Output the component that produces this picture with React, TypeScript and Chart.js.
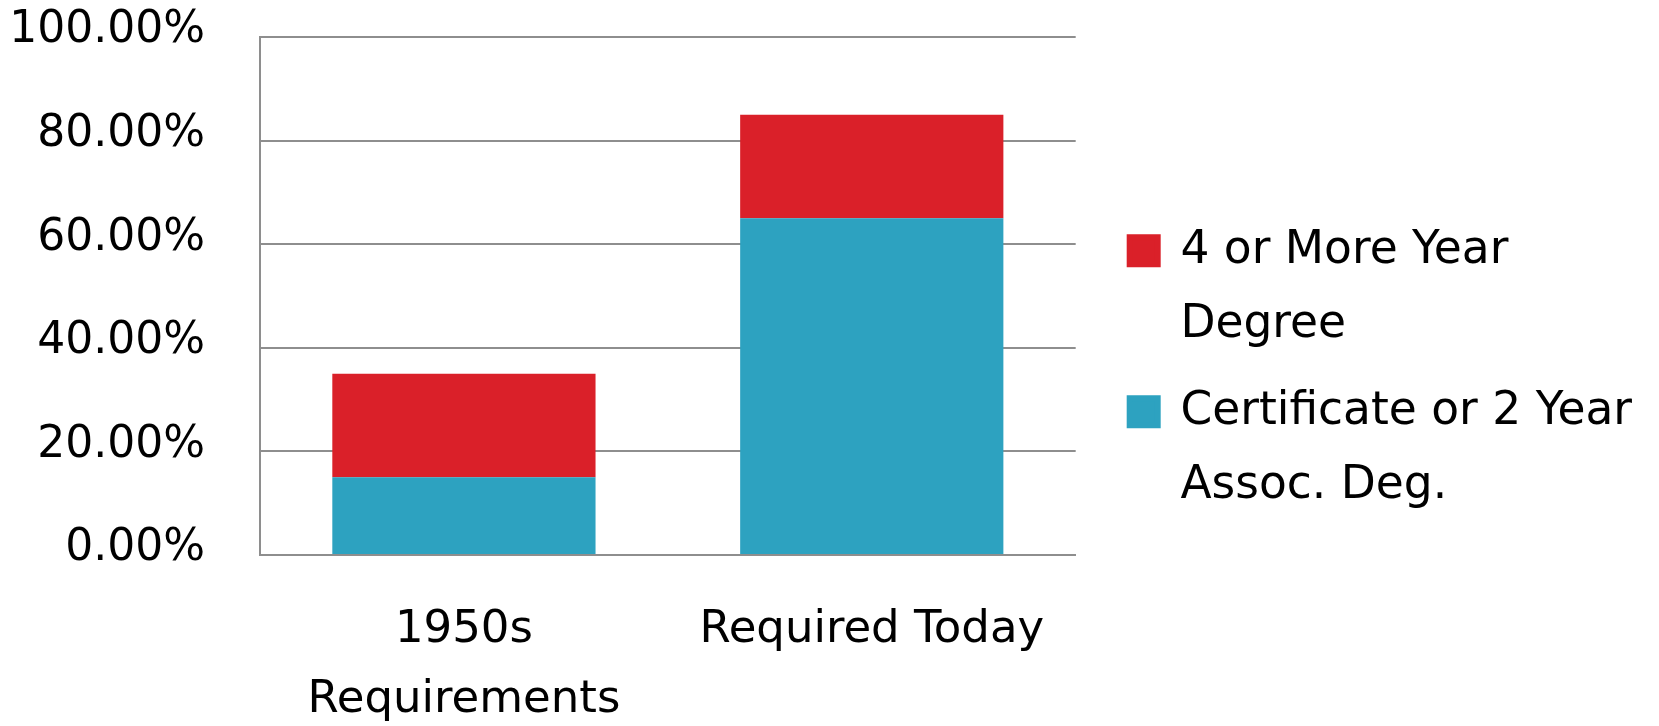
import React, { useEffect, useRef } from 'react';
import { Chart, registerables, layouts } from 'chart.js';

Chart.register(...registerables);

// ---- data ----
const categories: (string | string[])[] = [['1950s', 'Requirements'], 'Required Today'];
const certificateValues = [15, 65];
const degreeValues = [20, 20];
const certificateLabel = ['Certificate or 2 Year', 'Assoc. Deg.'];
const degreeLabel = ['4 or More Year', 'Degree'];
const yMin = 0;
const yMax = 100;
const yStep = 20;

const RED = '#DA2029';
const BLUE = '#2DA2C0';
const GRID = '#8e8e8e';
const FONT = "'DejaVu Sans', sans-serif";

export default function App() {
  const ref = useRef<HTMLCanvasElement | null>(null);

  useEffect(() => {
    if (!ref.current) return;

    const spacer: any = {
      id: 'spacer',
      position: 'right',
      weight: 10,
      fullSize: false,
      options: {},
      left: 0, top: 0, right: 0, bottom: 0, width: 0, height: 0,
      isHorizontal: () => false,
      update(maxWidth: number, maxHeight: number) {
        this.width = 41;
        this.height = maxHeight;
      },
      getPadding: () => ({ top: 0, left: 0, right: 0, bottom: 0 }),
      draw() {},
    };

    const chart = new Chart(ref.current, {
      type: 'bar',
      data: {
        labels: categories,
        datasets: [
          {
            label: certificateLabel.join(' '),
            data: certificateValues,
            backgroundColor: BLUE,
            borderWidth: 0,
          },
          {
            label: degreeLabel.join(' '),
            data: degreeValues,
            backgroundColor: RED,
            borderWidth: 0,
          },
        ],
      },
      options: {
        animation: false,
        responsive: false,
        devicePixelRatio: 1,
        layout: { padding: { top: 37, left: 0, right: 17, bottom: 0 } },
        datasets: {
          bar: { barPercentage: 0.6454, categoryPercentage: 1 },
        },
        scales: {
          x: {
            stacked: true,
            grid: { display: false, drawTicks: false },
            border: { display: true, color: GRID, width: 2 },
            ticks: {
              color: '#000',
              padding: 40,
              font: { family: FONT, size: 45, lineHeight: 1.567 },
              maxRotation: 0,
              autoSkip: false,
            },
            afterFit: (scale: any) => {
              scale.height = 171;
              scale.paddingLeft = 0;
              scale.paddingRight = 0;
            },
          },
          y: {
            stacked: true,
            min: yMin,
            max: yMax,
            grid: { color: GRID, lineWidth: 2, drawTicks: false },
            border: { display: true, color: GRID, width: 2 },
            ticks: {
              stepSize: yStep,
              color: '#000',
              padding: 55,
              labelOffset: -6,
              font: { family: FONT, size: 44 },
              callback: (v: any) => Number(v).toFixed(2) + '%',
            },
            afterFit: (scale: any) => {
              scale.width = 260;
              scale.paddingTop = 0;
              scale.paddingBottom = 0;
            },
          },
        },
        plugins: {
          tooltip: { enabled: false },
          legend: {
            position: 'right',
            align: 'start',
            reverse: true,
            maxWidth: 700,
            title: {
              display: true,
              text: ' ',
              padding: { top: 177, bottom: 0 },
              font: { size: 1, lineHeight: 1 },
            },
            labels: {
              color: '#000',
              boxWidth: 28,
              boxHeight: 27,
              padding: 13,
              font: { family: FONT, size: 45.5, lineHeight: 1.626 },
              generateLabels: (c: any) =>
                Chart.defaults.plugins.legend.labels
                  .generateLabels(c)
                  .map((item: any) => ({
                    ...item,
                    strokeStyle: item.fillStyle,
                    lineWidth: 6,
                    text: item.datasetIndex === 0 ? certificateLabel : degreeLabel,
                  })),
            },
          },
        },
      },
      plugins: [
        {
          id: 'addSpacer',
          beforeInit(c: any) {
            layouts.addBox(c, spacer);
          },
        },
      ],
    } as any);

    return () => chart.destroy();
  }, []);

  return (
    <div style={{ position: 'absolute', left: 0, top: 0, width: 1659, height: 726, background: '#fff' }}>
      <canvas ref={ref} width={1659} height={726} style={{ display: 'block' }} />
    </div>
  );
}
